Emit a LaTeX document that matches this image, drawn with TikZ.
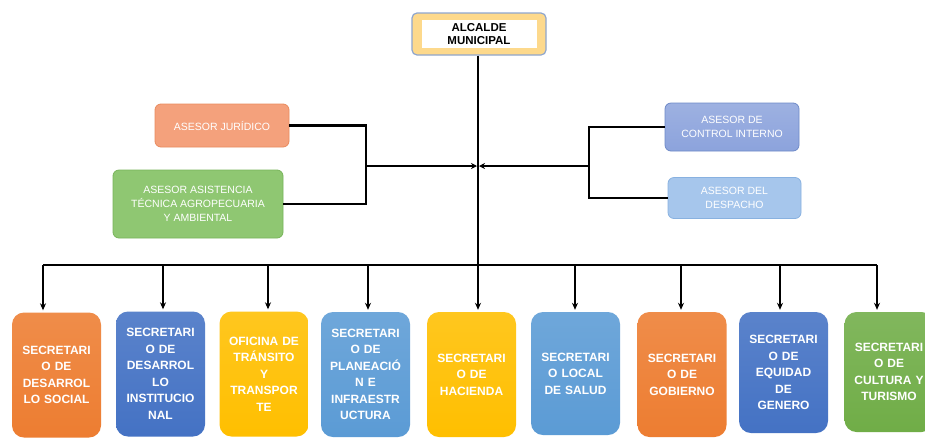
\documentclass[tikz,border=0pt]{standalone}
\usepackage{fontspec}
\setmainfont{Liberation Sans}
\usetikzlibrary{arrows.meta}
\definecolor{cOrange}{HTML}{ED7D31}
\definecolor{cDBlue}{HTML}{4472C4}
\definecolor{cYellow}{HTML}{FFBF00}
\definecolor{cMBlue}{HTML}{5B9BD5}
\definecolor{cGreen}{HTML}{70AD47}
\definecolor{cSalmon}{HTML}{F4A17C}
\definecolor{cSalmonB}{HTML}{E98B5E}
\definecolor{cLGreen}{HTML}{8FC772}
\definecolor{cLGreenB}{HTML}{78B45A}
\definecolor{cCtrl}{HTML}{8CA3DC}
\definecolor{cCtrlB}{HTML}{6E8AC8}
\definecolor{cDesp}{HTML}{A6C6EC}
\definecolor{cDespB}{HTML}{88B1E0}
\definecolor{cAlcFill}{HTML}{FDD98C}
\definecolor{cAlcB}{HTML}{8FA6CE}
\tikzset{
  sbox/.style={rounded corners=12pt, minimum width=89pt, minimum height=125pt,
    text width=88pt, align=center, text=white, inner sep=0pt,
    font=\bfseries\fontsize{12}{16.5}\selectfont},
  abox/.style={rounded corners=6pt, text=white, align=center, inner sep=0pt,
    font=\fontsize{10.5}{14}\selectfont, line width=0.8pt},
  line/.style={draw=black, line width=2.2pt},
  drop/.style={draw=black, line width=1.3pt, -{Stealth[length=7pt,width=6pt]}, shorten >=2pt},
  hubarr/.style={draw=black, line width=2.2pt, -{Stealth[length=6pt,width=6pt]}, shorten >=1pt}
}
\begin{document}
\begin{tikzpicture}[x=1pt,y=-1pt]
\useasboundingbox (0,0) rectangle (925,440);
\fill[white] (0,0) rectangle (925,440);

% Alcalde
\node[draw=cAlcB, line width=1.2pt, fill=cAlcFill, rounded corners=5pt,
  minimum width=134pt, minimum height=42pt] (alcf) at (479,34) {};
\node[fill=white, minimum width=115pt, minimum height=28pt, inner sep=0pt, align=center,
  font=\bfseries\fontsize{11.5}{13.5}\selectfont] (alc) at (alcf.center) {ALCALDE\\MUNICIPAL};

% Advisors
\node[abox, draw=cSalmonB, fill=cSalmon, minimum width=134pt, minimum height=43pt] (aj) at (222,125.5) {ASESOR JURÍDICO};
\node[abox, draw=cLGreenB, fill=cLGreen, minimum width=170pt, minimum height=68pt] (aa) at (198,204) {ASESOR ASISTENCIA\\TÉCNICA AGROPECUARIA\\Y AMBIENTAL};
\node[abox, draw=cCtrlB, top color=cCtrl!85!white, bottom color=cCtrl, minimum width=134pt, minimum height=48pt] (ci) at (732,127) {ASESOR DE\\CONTROL INTERNO};
\node[abox, draw=cDespB, fill=cDesp, minimum width=133pt, minimum height=41pt] (ad) at (734.5,198) {ASESOR DEL\\DESPACHO};

% Bottom boxes
\node[sbox, top color=cOrange!88!white, bottom color=cOrange] (s1) at (56.5,375) {SECRETARI\\O DE\\DESARROL\\LO SOCIAL};
\node[sbox, top color=cDBlue!88!white, bottom color=cDBlue] (s2) at (160.5,374) {SECRETARI\\O DE\\DESARROL\\LO\\INSTITUCIO\\NAL};
\node[sbox, top color=cYellow!88!white, bottom color=cYellow] (s3) at (264,374) {OFICINA DE\\TRÁNSITO\\Y\\TRANSPOR\\TE};
\node[sbox, top color=cMBlue!88!white, bottom color=cMBlue] (s4) at (365.5,374.5) {SECRETARI\\O DE\\PLANEACIÓ\\N E\\INFRAESTR\\UCTURA};
\node[sbox, top color=cYellow!88!white, bottom color=cYellow] (s5) at (471.5,374.5) {SECRETARI\\O DE\\HACIENDA};
\node[sbox, top color=cMBlue!88!white, bottom color=cMBlue, minimum height=123pt] (s6) at (575.5,373.5) {SECRETARI\\O LOCAL\\DE SALUD};
\node[sbox, top color=cOrange!88!white, bottom color=cOrange] (s7) at (682,374.5) {SECRETARI\\O DE\\GOBIERNO};
\node[sbox, top color=cDBlue!88!white, bottom color=cDBlue, minimum height=121pt] (s8) at (783.5,372.5) {SECRETARI\\O DE\\EQUIDAD\\DE\\GENERO};
\node[sbox, top color=cGreen!88!white, bottom color=cGreen, minimum height=120pt] (s9) at (889,372) {SECRETARI\\O DE\\CULTURA Y\\TURISMO};

% Junction coordinates
\coordinate (hub) at (478,166);
\coordinate (lj) at (366,166);
\coordinate (rj) at (589,166);
\coordinate (d1) at (43,265);
\coordinate (d2) at (163,265);
\coordinate (d3) at (268,265);
\coordinate (d4) at (368,265);
\coordinate (d5) at (478,265);
\coordinate (d6) at (575,265);
\coordinate (d7) at (681,265);
\coordinate (d8) at (780,265);
\coordinate (d9) at (877,265);

% Main connectors
\draw[line] (alcf.south -| hub) -- (d5);
\draw[line] (d1) -- (d9);
\draw[line] (aj.east) -| (lj) |- (aa.east);
\draw[line] (ci.west) -| (rj) |- (ad.west);
\draw[hubarr] (lj) -- (hub);
\draw[hubarr] (rj) -- (hub);

% Drops
\draw[drop] (d1) -- (d1 |- s1.north);
\draw[drop] (d2) -- (d2 |- s2.north);
\draw[drop] (d3) -- (d3 |- s3.north);
\draw[drop] (d4) -- (d4 |- s4.north);
\draw[drop] (d5) -- (d5 |- s5.north);
\draw[drop] (d6) -- (d6 |- s6.north);
\draw[drop] (d7) -- (d7 |- s7.north);
\draw[drop] (d8) -- (d8 |- s8.north);
\draw[drop] (d9) -- (d9 |- s9.north);
\end{tikzpicture}
\end{document}
